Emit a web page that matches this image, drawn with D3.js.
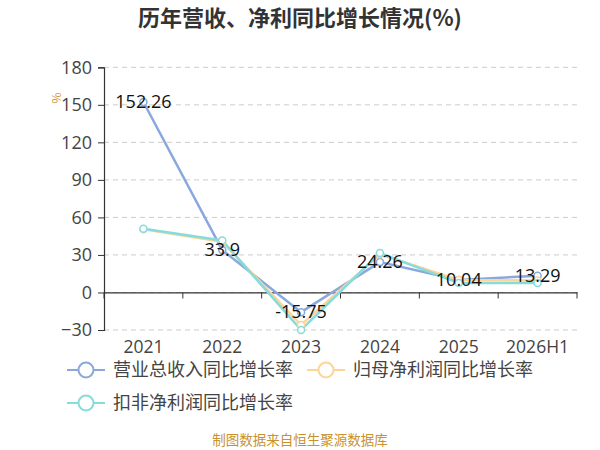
<!DOCTYPE html>
<html>
<head>
<meta charset="utf-8">
<script src="https://cdn.jsdelivr.net/npm/d3@7"></script>
<style>
  body { margin: 0; background: #fff; }
  svg { font-family: "Noto Sans CJK SC", "Noto Sans", sans-serif; }
</style>
</head>
<body>
<svg id="chart" width="600" height="450"></svg>
<script>
// Data
const years = ["2021", "2022", "2023", "2024", "2025", "2026H1"];
const revenueGrowth = [152.26, 33.9, -15.75, 24.26, 10.04, 13.29];   // 营业总收入同比增长率
const netProfitGrowth = [50.5, 40.5, -26, 30.5, 10, 9.5];            // 归母净利润同比增长率
const deductedGrowth = [51, 41.6, -30, 31.5, 7.5, 7.5];               // 扣非净利润同比增长率
const yTicks = [-30, 0, 30, 60, 90, 120, 150, 180];

const seriesNames = ["营业总收入同比增长率", "归母净利润同比增长率", "扣非净利润同比增长率"];
const seriesColors = ["#89a8dc", "#fcd597", "#88dbdb"];
const seriesValues = [revenueGrowth, netProfitGrowth, deductedGrowth];

const numFont = "'Open Sans', 'Noto Sans', sans-serif";
const svg = d3.select("#chart");

// Scales
const x = d3.scaleBand()
    .domain(years)
    .range([104, 577]);

const y = d3.scaleLinear()
    .domain([-30, 180])
    .range([330, 67.3]);

// Title
svg.append("text")
    .attr("x", 300)
    .attr("y", 26)
    .attr("text-anchor", "middle")
    .style("font-size", "22px")
    .style("font-weight", "bold")
    .style("fill", "#333")
    .text("历年营收、净利同比增长情况(%)");

// Grid lines
svg.append("g")
    .selectAll("line")
    .data(yTicks)
    .join("line")
    .attr("x1", 104)
    .attr("x2", 577)
    .attr("y1", d => y(d))
    .attr("y2", d => y(d))
    .style("stroke", "#ccc")
    .style("stroke-dasharray", "5,4")
    .style("stroke-width", 1);

// Y axis
let yAxis = d3.axisLeft(y).tickValues(yTicks).tickSize(6).tickPadding(6);
let gy = svg.append("g")
    .attr("transform", "translate(104,0)")
    .call(yAxis);
gy.select(".domain").style("stroke", "#333").style("stroke-width", 1.2);
gy.selectAll(".tick line").style("stroke", "#333");
gy.selectAll(".tick text")
    .style("font-size", "18px")
    .style("fill", "#444")
    .style("font-family", numFont);

// Unit label
svg.append("text")
    .attr("transform", "translate(61,98) rotate(-90)")
    .attr("text-anchor", "middle")
    .style("font-size", "12px")
    .style("fill", "#d4973a")
    .text("%");

// X axis at zero
let xAxis = d3.axisBottom(x).tickSize(0).tickSizeOuter(0).tickFormat(() => "");
let gx = svg.append("g")
    .attr("transform", `translate(0,${y(0)})`)
    .call(xAxis);
gx.select(".domain").style("stroke", "#333").style("stroke-width", 1.2);
gx.selectAll(".tick").remove();
// band boundary ticks
gx.selectAll(".bt")
    .data(years.concat(["end"]))
    .join("line")
    .attr("x1", (d, i) => i < years.length ? x(d) : x.range()[1])
    .attr("x2", (d, i) => i < years.length ? x(d) : x.range()[1])
    .attr("y1", 0)
    .attr("y2", 6)
    .style("stroke", "#333");

// X labels at bottom
svg.append("g")
    .selectAll("text")
    .data(years)
    .join("text")
    .attr("x", d => x(d) + x.bandwidth() / 2)
    .attr("y", 353)
    .attr("text-anchor", "middle")
    .style("font-size", "17.5px")
    .style("fill", "#444")
    .style("font-family", numFont)
    .text(d => d);

// Lines
const lineGen = d3.line()
    .x((d, i) => x(years[i]) + x.bandwidth() / 2)
    .y(d => y(d));

const drawOrder = [0, 1, 2];
drawOrder.forEach(k => {
    svg.append("path")
        .datum(seriesValues[k])
        .attr("d", lineGen)
        .style("fill", "none")
        .style("stroke", seriesColors[k])
        .style("stroke-width", 2.5);
});
drawOrder.forEach(k => {
    svg.append("g")
        .selectAll("circle")
        .data(seriesValues[k])
        .join("circle")
        .attr("cx", (d, i) => x(years[i]) + x.bandwidth() / 2)
        .attr("cy", d => y(d))
        .attr("r", 3.5)
        .style("fill", "#fff")
        .style("stroke", seriesColors[k])
        .style("stroke-width", 1.5);
});

// Value labels on revenue series
svg.append("g")
    .selectAll("text")
    .data(revenueGrowth)
    .join("text")
    .attr("x", (d, i) => x(years[i]) + x.bandwidth() / 2)
    .attr("y", d => y(d))
    .attr("dy", "0.35em")
    .attr("text-anchor", "middle")
    .style("font-size", "18px")
    .style("fill", "#111")
    .style("font-family", numFont)
    .text(d => d);

// Legend
const legendPos = [[67, 370], [307, 370], [67, 403]];
seriesNames.forEach((name, k) => {
    let g = svg.append("g")
        .attr("transform", `translate(${legendPos[k][0]},${legendPos[k][1]})`);
    g.append("line")
        .attr("x1", 0).attr("x2", 38)
        .attr("y1", 0).attr("y2", 0)
        .style("stroke", seriesColors[k])
        .style("stroke-width", 2);
    g.append("circle")
        .attr("cx", 19).attr("cy", 0).attr("r", 7.5)
        .style("fill", "#fff")
        .style("stroke", seriesColors[k])
        .style("stroke-width", 2);
    g.append("text")
        .attr("x", 46)
        .attr("y", 0)
        .attr("dy", "0.35em")
        .style("font-size", "18px")
        .style("fill", "#444")
        .text(name);
});

// Footer
svg.append("text")
    .attr("x", 300)
    .attr("y", 445)
    .attr("text-anchor", "middle")
    .style("font-size", "13.5px")
    .style("fill", "#c8922f")
    .text("制图数据来自恒生聚源数据库");
</script>
</body>
</html>
